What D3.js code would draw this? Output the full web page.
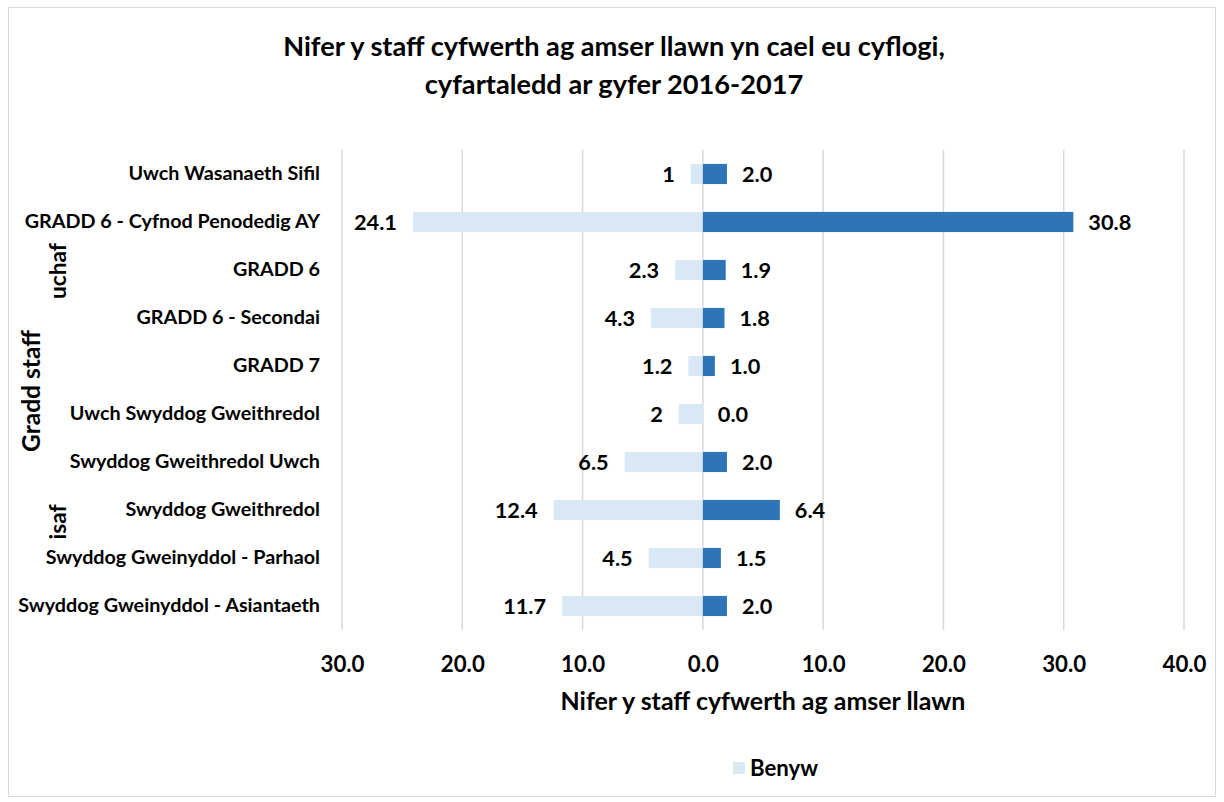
<!DOCTYPE html>
<html><head><meta charset="utf-8">
<script src="https://cdn.jsdelivr.net/npm/d3@7"></script>
<style>body{margin:0;background:#fff;font-family:Lato,"Open Sans",sans-serif;}</style>
</head><body><svg id="c" width="1224" height="802"></svg>
<script>
const categories = ["Uwch Wasanaeth Sifil","GRADD 6 - Cyfnod Penodedig AY","GRADD 6","GRADD 6 - Secondai","GRADD 7","Uwch Swyddog Gweithredol","Swyddog Gweithredol Uwch","Swyddog Gweithredol","Swyddog Gweinyddol - Parhaol","Swyddog Gweinyddol - Asiantaeth"];
const benyw = [1, 24.1, 2.3, 4.3, 1.2, 2, 6.5, 12.4, 4.5, 11.7];
const benywLabels = ["1","24.1","2.3","4.3","1.2","2","6.5","12.4","4.5","11.7"];
const gwryw = [2.0, 30.8, 1.9, 1.8, 1.0, 0.0, 2.0, 6.4, 1.5, 2.0];
const xTicks = [-30,-20,-10,0,10,20,30,40];
const title = ["Nifer y staff cyfwerth ag amser llawn yn cael eu cyflogi,","cyfartaledd ar gyfer 2016-2017"];

const font = "Lato, 'Open Sans', sans-serif";
const svg = d3.select("#c");

// font size that makes a sample string span a target width
function fitSize(sample, target){
  const t = svg.append("text").attr("font-family",font).attr("font-weight","bold").attr("font-size",100).text(sample);
  const w = t.node().getComputedTextLength();
  t.remove();
  return 100*target/w;
}
const fsTitle = fitSize(title[0], 662);
const fsCat = fitSize("Swyddog Gweinyddol - Asiantaeth", 302);
const fsTick = fitSize("30.0", 44);
const fsData = fitSize("24.1", 43);
const fsAxis = fitSize("Nifer y staff cyfwerth ag amser llawn", 405);
const fsLeg = fitSize("Benyw", 68);
const fsGradd = fitSize("Gradd staff", 122);
const fsSide = fitSize("uchaf", 56);

svg.append("rect").attr("x",8.5).attr("y",7.5).attr("width",1207).attr("height",789).attr("fill","#fff").attr("stroke","#d9d9d9");
const x = d3.scaleLinear().domain([-30,40]).range([342,1184]);
const y = d3.scaleBand().domain(categories).range([150,630]).paddingInner(0.58).paddingOuter(0.29);

svg.append("g").selectAll("line").data(xTicks).join("line")
  .attr("x1",d=>x(d)).attr("x2",d=>x(d)).attr("y1",150).attr("y2",630)
  .attr("stroke","#d9d9d9").attr("stroke-width",1.5);

svg.append("g").selectAll("rect").data(categories).join("rect")
  .attr("x",(d,i)=>x(-benyw[i])).attr("width",(d,i)=>x(0)-x(-benyw[i]))
  .attr("y",d=>y(d)).attr("height",y.bandwidth()).attr("fill","#d9e8f5");
svg.append("g").selectAll("rect").data(categories).join("rect")
  .attr("x",x(0)).attr("width",(d,i)=>x(gwryw[i])-x(0))
  .attr("y",d=>y(d)).attr("height",y.bandwidth()).attr("fill","#2e75b6");

const lab = svg.append("g").attr("font-family",font).attr("font-weight","bold").attr("font-size",fsData).attr("fill","#000");
lab.selectAll("text.f").data(categories).join("text").attr("class","f")
  .attr("x",(d,i)=>x(-benyw[i])-16).attr("y",d=>y(d)+y.bandwidth()/2).attr("dy","0.36em")
  .attr("text-anchor","end").text((d,i)=>benywLabels[i]);
lab.selectAll("text.m").data(categories).join("text").attr("class","m")
  .attr("x",(d,i)=>x(gwryw[i])+15).attr("y",d=>y(d)+y.bandwidth()/2).attr("dy","0.36em")
  .attr("text-anchor","start").text((d,i)=>gwryw[i].toFixed(1));

const yAxis = svg.append("g").attr("transform","translate(320,0)")
  .call(d3.axisLeft(y).tickSize(0).tickPadding(0));
yAxis.select(".domain").remove();
yAxis.selectAll("text").attr("font-family",font).attr("font-weight","bold").attr("font-size",fsCat).attr("fill","#000").attr("text-anchor","end");

const xAxis = svg.append("g").attr("transform","translate(0,653)")
  .call(d3.axisBottom(x).tickValues(xTicks).tickSize(0).tickFormat(d=>Math.abs(d).toFixed(1)));
xAxis.select(".domain").remove();
xAxis.selectAll("text").attr("font-family",font).attr("font-weight","bold").attr("font-size",fsTick).attr("fill","#000");

svg.append("text").attr("x",763).attr("y",710).attr("text-anchor","middle")
  .attr("font-family",font).attr("font-weight","bold").attr("font-size",fsAxis).text("Nifer y staff cyfwerth ag amser llawn");

svg.append("g").selectAll("text").data(title).join("text")
  .attr("x",614).attr("y",(d,i)=>56+i*38).attr("text-anchor","middle")
  .attr("font-family",font).attr("font-weight","bold").attr("font-size",fsTitle).text(d=>d);

svg.append("text").attr("transform","translate(40,391) rotate(-90)").attr("text-anchor","middle")
  .attr("font-family",font).attr("font-weight","bold").attr("font-size",fsGradd).text("Gradd staff");
svg.append("text").attr("transform","translate(66,271) rotate(-90)").attr("text-anchor","middle")
  .attr("font-family",font).attr("font-weight","bold").attr("font-size",fsSide).text("uchaf");
svg.append("text").attr("transform","translate(66,522) rotate(-90)").attr("text-anchor","middle")
  .attr("font-family",font).attr("font-weight","bold").attr("font-size",fsSide).text("isaf");

svg.append("rect").attr("x",733).attr("y",762).attr("width",12).attr("height",12).attr("fill","#d9e8f5");
svg.append("text").attr("x",750).attr("y",776).attr("font-family",font).attr("font-weight","bold").attr("font-size",fsLeg).text("Benyw");
</script></body></html>
